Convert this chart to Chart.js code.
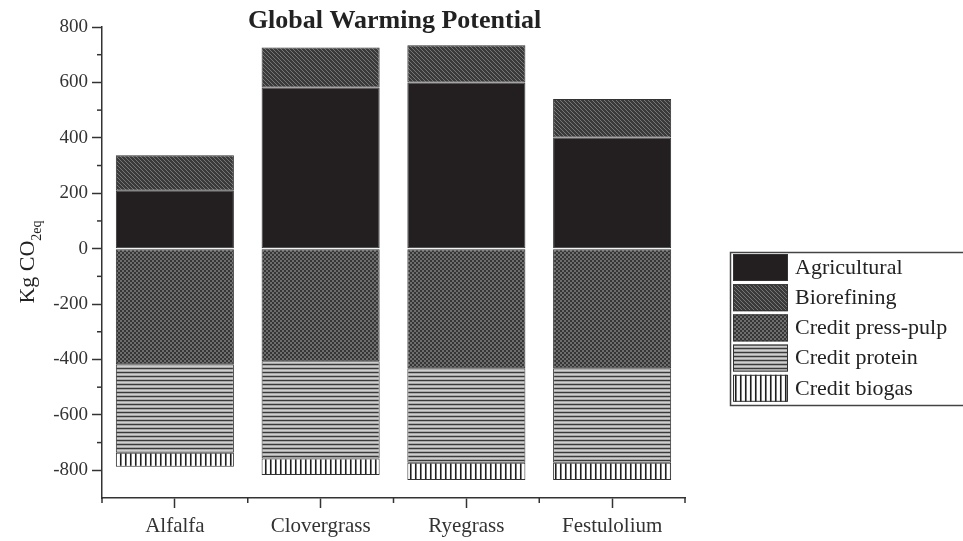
<!DOCTYPE html>
<html>
<head>
<meta charset="utf-8">
<title>Global Warming Potential</title>
<script src="https://cdn.jsdelivr.net/npm/chart.js@4"></script>
<style>
  html, body { margin: 0; padding: 0; background: #fff; }
  canvas { display: block; }
</style>
</head>
<body>
<canvas id="chart" width="963" height="541"></canvas>
<script>
var crops = ['Alfalfa', 'Clovergrass', 'Ryegrass', 'Festulolium'];
var agricultural = [209, 582, 600, 401];
var biorefining = [128, 144, 134, 139];
var creditPressPulp = [-417, -406, -432, -432];
var creditProtein = [-320, -351, -341, -341];
var creditBiogas = [-50, -60, -62, -62];
var yTicks = [-800, -600, -400, -200, 0, 200, 400, 600, 800];
var yMinorTicks = [-700, -500, -300, -100, 100, 300, 500, 700];

var serif = '"Liberation Serif", "Times New Roman", serif';
var ctx = document.getElementById('chart').getContext('2d');

// small tiles used as bar fills
function makePattern(w, h, paint) {
  var c = document.createElement('canvas');
  c.width = w;
  c.height = h;
  paint(c.getContext('2d'));
  return ctx.createPattern(c, 'repeat');
}

var solidFill = '#231f20';
var diagFill = makePattern(4, 4, function (g) {
  g.fillStyle = '#3a3a3a';
  g.fillRect(0, 0, 4, 4);
  g.fillStyle = '#767676';
  for (var i = 0; i < 4; i++) g.fillRect(i, i, 1, 1);
});
var checkFill = makePattern(4, 4, function (g) {
  g.fillStyle = '#363636';
  g.fillRect(0, 0, 4, 4);
  g.fillStyle = '#6e6e6e';
  g.fillRect(0, 0, 2, 2);
  g.fillRect(2, 2, 2, 2);
});
var hLineFill = makePattern(1, 4, function (g) {
  var rows = ['#3a3a3a', '#a8a8a8', '#cfcfcf', '#a8a8a8'];
  rows.forEach(function (c, i) { g.fillStyle = c; g.fillRect(0, i, 1, 1); });
});
var vLineFill = makePattern(5, 1, function (g) {
  var cols = ['#1e1e1e', '#808080', '#ffffff', '#ffffff', '#f2f2f2'];
  cols.forEach(function (c, i) { g.fillStyle = c; g.fillRect(i, 0, 1, 1); });
});

var extras = {
  id: 'extras',
  afterDraw: function (chart) {
    var c = chart.ctx;
    var area = chart.chartArea;
    var ys = chart.scales.y;
    c.save();

    // minor ticks
    c.strokeStyle = '#333';
    c.lineWidth = 1.5;
    yMinorTicks.forEach(function (v) {
      var p = ys.getPixelForValue(v);
      c.beginPath();
      c.moveTo(area.left - 5, p);
      c.lineTo(area.left, p);
      c.stroke();
    });
    var step = (area.right - area.left) / crops.length;
    for (var i = 0; i <= crops.length; i++) {
      var x = area.left + i * step;
      c.beginPath();
      c.moveTo(x, area.bottom);
      c.lineTo(x, area.bottom + 5);
      c.stroke();
    }

    // title
    c.fillStyle = '#222';
    c.font = 'bold 26px ' + serif;
    c.textAlign = 'center';
    c.textBaseline = 'alphabetic';
    c.fillText('Global Warming Potential', (area.left + area.right) / 2 + 1, 28);

    // y axis title with subscript
    c.save();
    c.translate(34, 262);
    c.rotate(-Math.PI / 2);
    c.textAlign = 'left';
    c.font = '22px ' + serif;
    var w1 = c.measureText('Kg CO').width;
    c.font = '14px ' + serif;
    var w2 = c.measureText('2eq').width;
    var x0 = -(w1 + w2) / 2;
    c.font = '22px ' + serif;
    c.fillText('Kg CO', x0, 0);
    c.font = '14px ' + serif;
    c.fillText('2eq', x0 + w1, 7);
    c.restore();

    // legend
    c.strokeStyle = '#444';
    c.lineWidth = 1.5;
    c.strokeRect(730.5, 252.5, 260, 153);
    c.textAlign = 'left';
    c.textBaseline = 'middle';
    c.font = '22px ' + serif;
    chart.data.datasets.forEach(function (ds, i) {
      var y = 254 + i * 30.2;
      c.fillStyle = ds.backgroundColor;
      c.fillRect(733, y, 55, 27);
      c.strokeStyle = '#333';
      c.lineWidth = 1;
      c.strokeRect(733.5, y + 0.5, 54, 26);
      c.fillStyle = '#222';
      c.fillText(ds.label, 795, y + 14);
    });
    c.restore();
  }
};

function barSet(label, data, fill) {
  return {
    label: label,
    data: data,
    backgroundColor: fill,
    borderColor: '#333',
    borderWidth: 1,
    borderSkipped: false,
    barPercentage: 0.81,
    categoryPercentage: 1
  };
}

var chart = new Chart(ctx, {
  type: 'bar',
  data: {
    labels: crops,
    datasets: [
      barSet('Agricultural', agricultural, solidFill),
      barSet('Biorefining', biorefining, diagFill),
      barSet('Credit press-pulp', creditPressPulp, checkFill),
      barSet('Credit protein', creditProtein, hLineFill),
      barSet('Credit biogas', creditBiogas, vLineFill)
    ]
  },
  options: {
    responsive: false,
    animation: false,
    layout: { padding: { top: 27, right: 278, left: 0, bottom: 0 } },
    plugins: {
      legend: { display: false },
      title: { display: false },
      tooltip: { enabled: false }
    },
    scales: {
      x: {
        stacked: true,
        grid: { drawOnChartArea: false, offset: false, tickLength: 10, tickColor: '#333', tickWidth: 1.5 },
        border: { color: '#333', width: 1.5 },
        ticks: { color: '#333', padding: 6, font: { family: serif, size: 21 } },
        afterFit: function (s) { s.height = 43; }
      },
      y: {
        stacked: true,
        min: -900,
        max: 800,
        afterBuildTicks: function (s) {
          s.ticks = yTicks.map(function (v) { return { value: v }; });
        },
        grid: { drawOnChartArea: false, tickLength: 10, tickColor: '#333', tickWidth: 1.5 },
        border: { color: '#333', width: 1.5 },
        ticks: { color: '#333', padding: 4, font: { family: serif, size: 19 } },
        afterFit: function (s) { s.width = 102; }
      }
    }
  },
  plugins: [extras]
});
</script>
</body>
</html>
